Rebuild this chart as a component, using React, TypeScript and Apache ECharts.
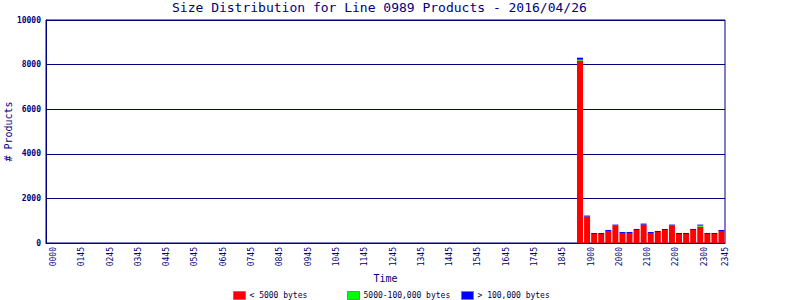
import React, { useEffect, useRef } from "react";
import * as echarts from "echarts";

const TITLE = "Size Distribution for Line 0989 Products - 2016/04/26";
const SERIES_NAMES = ["< 5000 bytes", "5000-100,000 bytes", "> 100,000 bytes"];
const COLORS = ["#ff0000", "#00ff00", "#0000ff"];

// 96 fifteen-minute slots of the day
const SLOT_COUNT = 96;
const CATEGORIES: string[] = Array.from({ length: SLOT_COUNT }, (_, i) => {
  const h = Math.floor(i / 4);
  const m = (i % 4) * 15;
  return String(h).padStart(2, "0") + String(m).padStart(2, "0");
});

// tick labels as printed under the axis (every 4th slot, plus the last slot)
const TICK_LABELS = [
  "0000", "0145", "0245", "0345", "0445", "0545", "0645", "0745", "0845", "0945",
  "1045", "1145", "1245", "1345", "1445", "1545", "1645", "1745", "1845",
  "1900", "2000", "2100", "2200", "2300", "2345",
];

// values only exist for the last 21 slots (index 75..95); earlier slots are 0
const FIRST_ACTIVE = 75;
const SMALL = [8180, 1185, 405, 405, 540, 780, 450, 450, 585, 825, 450, 495, 585, 780, 405, 405, 585, 735, 405, 405, 540];
const MEDIUM = [40, 0, 0, 0, 0, 0, 0, 0, 0, 0, 0, 0, 0, 0, 0, 0, 0, 45, 0, 0, 0];
const LARGE = [90, 45, 45, 45, 45, 45, 45, 45, 45, 45, 45, 45, 45, 45, 45, 45, 45, 45, 45, 45, 45];

const pad = (arr: number[]) => {
  const out: number[] = [];
  for (let i = 0; i < SLOT_COUNT; i++) {
    out.push(i >= FIRST_ACTIVE ? arr[i - FIRST_ACTIVE] : 0);
  }
  return out;
};

const NAVY = "#000080";
const MONO = "'DejaVu Sans Mono', 'Liberation Mono', monospace";
const LEGEND_LEFTS = [233, 347, 461];

export default function App() {
  const ref = useRef<HTMLDivElement>(null);
  useEffect(() => {
    if (!ref.current) return;
    const chart = echarts.init(ref.current, undefined, { renderer: "svg" });
    const dataSets = [SMALL, MEDIUM, LARGE];
    chart.setOption({
      animation: false,
      backgroundColor: "#ffffff",
      title: {
        text: TITLE,
        left: 172,
        top: 1,
        padding: 0,
        textStyle: { fontFamily: MONO, fontSize: 13, fontWeight: "normal", color: NAVY },
      },
      legend: SERIES_NAMES.map((name, k) => ({
        data: [{ name, itemStyle: { color: COLORS[k], borderColor: "#808080", borderWidth: 1 } }],
        left: LEGEND_LEFTS[k],
        top: 291,
        padding: 0,
        itemWidth: 12,
        itemHeight: 8,
        icon: "rect",
        selectedMode: false,
        textStyle: { fontFamily: MONO, fontSize: 8, color: "#000040", padding: [0, 0, 0, -1] },
      })),
      grid: {
        left: 46,
        right: 75,
        top: 20,
        bottom: 57,
        show: true,
        borderColor: NAVY,
        borderWidth: 1,
        containLabel: false,
        outerBoundsMode: "none",
      },
      xAxis: {
        type: "category",
        data: CATEGORIES,
        name: "Time",
        nameLocation: "middle",
        nameGap: 30,
        nameMoveOverlap: false,
        nameTextStyle: { fontFamily: MONO, fontSize: 10, color: NAVY },
        axisLine: { lineStyle: { color: NAVY, width: 1 } },
        axisTick: { show: false },
        axisLabel: {
          rotate: 90,
          fontFamily: MONO,
          fontSize: 8,
          color: NAVY,
          margin: 4,
          verticalAlign: "top",
          interval: (i: number) => i % 4 === 0 || i === SLOT_COUNT - 1,
          formatter: (_v: string, i: number) =>
            i % 4 === 0 ? TICK_LABELS[i / 4] : i === SLOT_COUNT - 1 ? TICK_LABELS[TICK_LABELS.length - 1] : "",
        },
      },
      yAxis: {
        type: "value",
        min: 0,
        max: 10000,
        interval: 2000,
        name: "# Products",
        nameLocation: "middle",
        nameGap: 33,
        nameMoveOverlap: false,
        nameTextStyle: { fontFamily: MONO, fontSize: 10, color: NAVY },
        axisLine: { show: true, lineStyle: { color: NAVY, width: 1 } },
        axisTick: { show: false },
        axisLabel: {
          fontFamily: MONO,
          fontSize: 8,
          fontWeight: "bold",
          color: NAVY,
          margin: 5,
          formatter: (v: number) => String(v),
        },
        splitLine: { show: true, lineStyle: { color: NAVY, width: 1 } },
      },
      series: SERIES_NAMES.map((name, k) => ({
        name,
        type: "bar",
        stack: "total",
        barWidth: 6,
        data: pad(dataSets[k]),
        itemStyle: { color: COLORS[k] },
        silent: true,
        emphasis: { disabled: true },
      })),
    });
    return () => chart.dispose();
  }, []);
  return <div ref={ref} style={{ position: "fixed", left: 0, top: 0, width: 800, height: 300 }} />;
}
